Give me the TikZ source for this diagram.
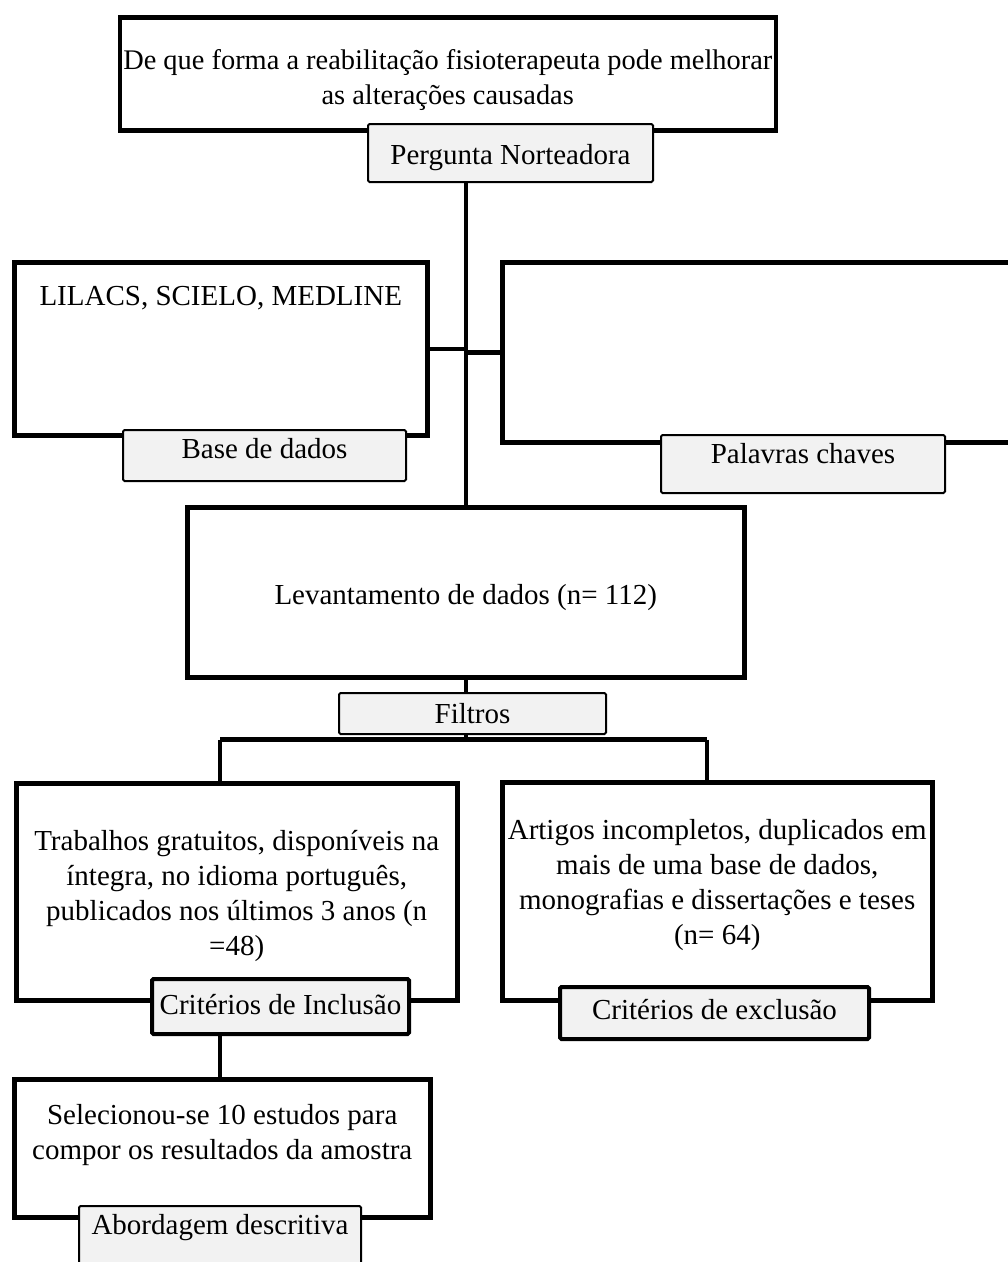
\documentclass[tikz,border=0pt]{standalone}
\usepackage{fontspec}
\setmainfont{Liberation Serif}
\usetikzlibrary{backgrounds}
\tikzset{
  mainbox/.style={draw, line width=4.5pt, anchor=north west, inner sep=0pt,
    align=center, font=\fontsize{29}{35}\selectfont},
  tagbox/.style={draw, fill=black!5, line width=2pt, rounded corners=1.5pt,
    anchor=north west, inner sep=0pt, align=center, font=\fontsize{29}{35}\selectfont},
  tagboxthick/.style={tagbox, line width=4pt},
  link/.style={line width=4.5pt}
}

\begin{document}
\begin{tikzpicture}[x=1pt, y=-1pt]
  \useasboundingbox (0,0) rectangle (1008,1262);

  % main boxes (text height = top edge to last baseline)
  \node[mainbox, font=\fontsize{28.4}{35}\selectfont, minimum width=656, minimum height=113, text height=87, text depth=26]
    (guia) at (117.5,15) {De que forma a reabilitação fisioterapeuta pode melhorar\\ as alterações causadas};
  \node[mainbox, minimum width=413, minimum height=173, text height=43, text depth=130]
    (bases) at (12,260) {LILACS, SCIELO, MEDLINE};
  \node[mainbox, minimum width=530, minimum height=180, text height=0, text depth=180]
    (chaves) at (500,260) {};
  \node[mainbox, minimum width=557, minimum height=170, text height=97, text depth=73]
    (levant) at (185,505) {Levantamento de dados (n= 112)};
  \node[mainbox, minimum width=441, minimum height=217, text height=172, text depth=45]
    (trab) at (14,781) {Trabalhos gratuitos, disponíveis na\\ íntegra, no idioma português,\\ publicados nos últimos 3 anos (n\\ =48)};
  \node[mainbox, minimum width=430, minimum height=218, text height=162, text depth=56]
    (art) at (500,780) {Artigos incompletos, duplicados em\\ mais de uma base de dados,\\ monografias e dissertações e teses\\ (n= 64)};
  \node[mainbox, minimum width=416, minimum height=138, text height=80, text depth=58]
    (sel) at (12,1077) {Selecionou-se 10 estudos para\\ compor os resultados da amostra};

  % labels
  \node[tagbox, minimum width=285, minimum height=58, text height=40, text depth=18]
    (pq) at (367,123) {Pergunta Norteadora};
  \node[tagbox, minimum width=283, minimum height=51, text height=28, text depth=23]
    (basetag) at (122,429) {Base de dados};
  \node[tagbox, minimum width=284, minimum height=58, text height=28, text depth=30]
    (chavetag) at (660,434) {Palavras chaves};
  \node[tagbox, minimum width=267, minimum height=41, text height=30, text depth=11]
    (filtros) at (338,692) {Filtros};
  \node[tagboxthick, minimum width=257, minimum height=55, text height=35, text depth=20]
    (incl) at (150,977) {Critérios de Inclusão};
  \node[tagboxthick, minimum width=309, minimum height=52, text height=32, text depth=20]
    (excl) at (558,985) {Critérios de exclusão};
  \node[tagbox, minimum width=282, minimum height=65, text height=28, text depth=37]
    (abord) at (78,1205) {Abordagem descritiva};

  \coordinate (jl) at (220,739.5);
  \coordinate (jr) at (707,739.5);

  % connectors
  \begin{scope}[on background layer]
    \draw[link] (levant.north) -- (levant.north |- pq.south);
    \draw[link] (bases.east) -- (levant.north |- bases.east);
    \draw[link] (chaves.west) -- (levant.north |- chaves.west);
    \draw[link] (levant.south) -- (levant.south |- jl);
    \draw[link] (jl) -- (jr);
    \draw[link] (jl) -- (jl |- trab.north);
    \draw[link] (jr) -- (jr |- art.north);
    \draw[link] (sel.north -| jl) -- (jl |- trab.south);
  \end{scope}
\end{tikzpicture}
\end{document}
